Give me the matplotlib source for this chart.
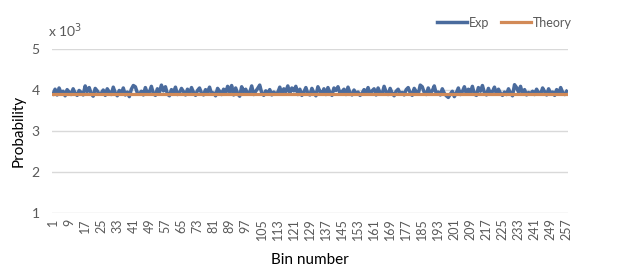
import matplotlib
matplotlib.use("Agg")
import matplotlib.pyplot as plt
import numpy as np

plt.rcParams["font.family"] = ["Lato", "DejaVu Sans"]

BLUE = "#4a6b9d"
ORANGE = "#d28a57"
GRID = "#d9d9d9"
TICK = "#595959"

# bins 1..257
bins = list(range(1, 258))
exp_vals = [
    3.90, 4.02, 3.88, 4.05, 3.93, 3.97, 3.86, 4.01, 3.95, 3.89, 4.03, 3.92, 3.87, 3.99, 3.94, 3.88,
    4.10, 3.96, 4.06, 3.91, 3.85, 4.04, 3.98, 3.90, 3.92, 4.00, 3.87, 4.03, 3.95, 3.89, 4.07, 3.93,
    3.86, 3.99, 3.92, 4.05, 3.88, 3.95, 3.84, 4.02, 4.11, 4.08, 3.93, 3.90, 3.97, 3.88, 4.06, 3.92,
    3.95, 4.09, 3.91, 3.87, 4.03, 3.94, 4.12, 3.98, 4.08, 3.90, 3.86, 4.01, 3.94, 4.07, 3.89, 3.93,
    4.04, 3.96, 3.88, 4.02, 3.91, 4.06, 3.94, 3.87, 3.99, 4.05, 3.92, 3.88, 4.01, 3.95, 4.07, 3.90,
    3.93, 3.86, 4.04, 3.97, 3.89, 4.02, 3.92, 4.09, 3.95, 4.11, 3.88, 4.05, 3.91, 3.85, 4.08, 3.96,
    4.02, 3.90, 3.94, 4.10, 3.89, 3.97, 4.04, 4.12, 3.93, 3.87, 3.98, 3.92, 4.01, 3.88, 3.95, 3.91,
    3.94, 4.07, 3.90, 4.03, 3.96, 4.10, 3.92, 4.05, 3.98, 4.09, 3.89, 4.02, 3.87, 3.95, 4.06, 3.91,
    3.88, 4.04, 3.93, 3.86, 4.08, 3.97, 3.90, 4.03, 3.89, 4.06, 3.94, 3.87, 4.05, 3.99, 4.08, 3.92,
    3.96, 4.02, 3.89, 4.07, 3.93, 3.88, 4.00, 3.91, 3.95, 3.87, 3.92, 4.01, 3.94, 4.06, 3.90, 3.98,
    4.03, 3.88, 4.05, 3.93, 3.90, 4.09, 3.95, 3.89, 4.04, 3.92, 3.86, 3.97, 4.02, 3.91, 3.94, 3.88,
    4.01, 4.06, 3.93, 3.87, 4.04, 3.96, 3.90, 4.12, 4.08, 3.94, 3.89, 4.05, 3.92, 3.98, 4.10, 3.91,
    3.95, 3.88, 4.03, 3.92, 3.86, 3.82, 3.90, 3.97, 3.84, 3.93, 4.05, 3.89, 3.96, 4.08, 3.91, 4.02,
    3.94, 4.09, 3.90, 3.87, 4.06, 3.97, 4.11, 3.93, 3.88, 4.04, 3.91, 3.96, 4.07, 3.90, 4.02, 3.92,
    3.87, 3.95, 3.89, 4.03, 3.92, 3.86, 4.13, 4.06, 3.95, 4.09, 3.90, 4.01, 3.88, 3.94, 3.91, 3.97,
    3.89, 4.02, 3.93, 3.90, 4.05, 3.96, 3.88, 4.03, 3.92, 3.95, 3.87, 4.01, 3.91, 4.06, 3.94, 3.89, 3.97,
]
theory_value = 3.906
theory_vals = [theory_value] * len(bins)
y_ticks = [1, 2, 3, 4, 5]
x_ticks = bins[::8]

fig = plt.figure(figsize=(6.35, 2.71), dpi=100)
ax = fig.add_axes([0.082, 0.214, 0.812, 0.605])

ax.plot(bins, exp_vals, color=BLUE, lw=2.5, label="Exp", solid_joinstyle="round")
ax.plot(bins, theory_vals, color=ORANGE, lw=2.3, label="Theory")

ax.set_xlim(0.5, len(bins) + 0.5)
ax.set_ylim(1, 5)
ax.set_yticks(y_ticks)
ax.set_xticks(x_ticks)
ax.set_xticklabels([str(t) for t in x_ticks], rotation=90, fontsize=9, color=TICK)
ax.tick_params(axis="y", labelsize=10, labelcolor=TICK, length=0, pad=9)
ax.tick_params(axis="x", length=0, pad=4)
ax.grid(axis="y", color=GRID, lw=1.0)
ax.set_axisbelow(True)
for s in ax.spines.values():
    s.set_visible(False)

ax.set_ylabel("Probability", fontsize=11, labelpad=4)
ax.set_xlabel("Bin number", fontsize=11, labelpad=9)
fig.text(48 / 635, 1 - 31 / 271, r"x 10$^3$", fontsize=10, color=TICK, va="center")

ax.legend(loc="center right", bbox_to_anchor=(1.008, 1.16), ncol=2, frameon=False,
          fontsize=9, handlelength=2.4, handletextpad=0.15, columnspacing=0.9,
          borderaxespad=0, borderpad=0, labelcolor=TICK)

fig.savefig("out.png", dpi=100)
